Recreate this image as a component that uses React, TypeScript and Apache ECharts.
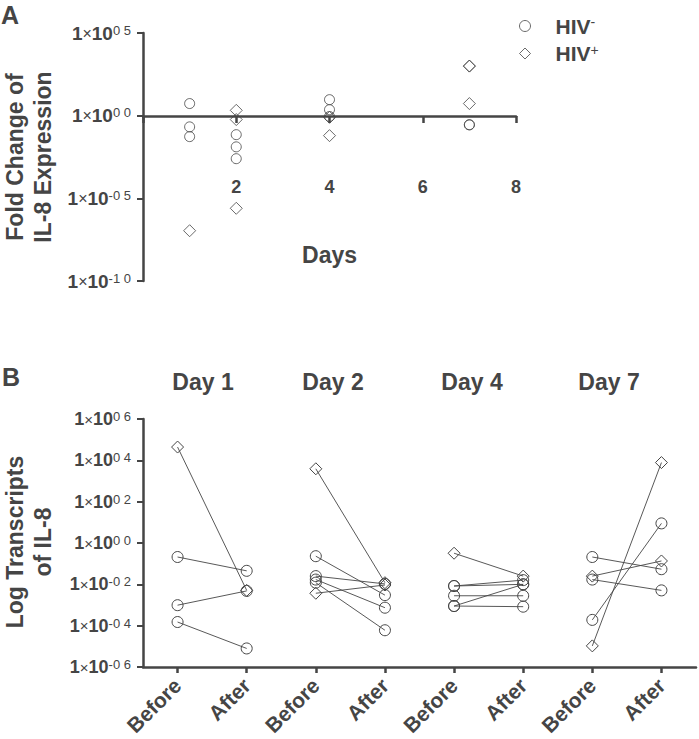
import React, { useEffect, useRef } from 'react';
import * as echarts from 'echarts';

const FONT = '"Liberation Sans", Arial, Helvetica, sans-serif';
const INK = '#454545';

// ---------- Panel A: fold change of IL-8 expression ----------
const hivNegDays = [1, 1, 1, 2, 2, 2, 4, 4, 4, 7, 7];
const hivNegFold = [5.4, 0.21, 0.054, 0.071, 0.013, 0.0025, 9.3, 2.3, 0.89, 0.28, 0.28];
const hivPosDays = [1, 2, 2, 2, 4, 4, 7, 7, 7];
const hivPosFold = [1.1e-7, 2.1, 0.58, 2.5e-6, 0.79, 0.062, 1000, 1000, 5.4];
const legendNames = ['HIV-', 'HIV+'];

// ---------- Panel B: log transcripts of IL-8, before / after ----------
const bCategories = ['Before', 'After', 'Before', 'After', 'Before', 'After', 'Before', 'After'];
const dayTitles = ['Day 1', 'Day 2', 'Day 4', 'Day 7'];

const day1Before = [4.4e4, 0.21, 9.8e-4, 1.5e-4];
const day1After = [5.1e-3, 0.045, 4.8e-3, 7.9e-6];
const day1Status = ['+', '-', '-', '-'];

const day2Before = [3.9e3, 0.23, 0.025, 0.017, 0.012, 3.7e-3];
const day2After = [0.012, 3.0e-3, 0.0105, 7.4e-4, 6.0e-5, 9.3e-3];
const day2Status = ['+', '-', '-', '-', '-', '+'];

const day4Before = [0.32, 8.3e-3, 8.3e-3, 2.8e-3, 8.9e-4, 8.9e-4];
const day4After = [0.025, 0.016, 0.010, 2.8e-3, 0.010, 8.3e-4];
const day4Status = ['+', '-', '-', '-', '-', '-'];

const day7Before = [1.05e-5, 1.9e-4, 0.21, 0.025, 0.017];
const day7After = [7.8e3, 8.9, 0.054, 0.135, 5.1e-3];
const day7Status = ['+', '-', '-', '+', '-'];

const expLabel = (v: number) => {
  const e = Math.round(Math.log10(v));
  const sign = e < 0 ? '-' : '';
  const digits = String(Math.abs(e)).padStart(2, '0').split('').join(' ');
  return `{a|1}{x|×}{a|10}{s|${sign}${digits}}`;
};

const richFor = (size: number) => ({
  a: { fontSize: size, fontWeight: 'bold', color: INK, fontFamily: FONT },
  x: { fontSize: size - 3, color: INK, fontFamily: FONT },
  s: { fontSize: 13, color: INK, fontFamily: FONT, verticalAlign: 'top' },
});

export default function App() {
  const ref = useRef<HTMLDivElement>(null);
  useEffect(() => {
    if (!ref.current) return;
    const chart = echarts.init(ref.current, undefined, { renderer: 'svg' });

    const hollow = { color: 'rgba(255,255,255,0)', borderColor: INK, borderWidth: 1 };

    const series: any[] = [
      {
        type: 'scatter', name: 'HIV-', xAxisIndex: 0, yAxisIndex: 0,
        data: hivNegDays.map((d, i) => [d, hivNegFold[i]]),
        symbol: 'circle', symbolSize: 10, itemStyle: hollow, silent: true,
      },
      {
        type: 'scatter', name: 'HIV+', xAxisIndex: 0, yAxisIndex: 0,
        data: hivPosDays.map((d, i) => [d, hivPosFold[i]]),
        symbol: 'diamond', symbolSize: 12, itemStyle: hollow, silent: true,
      },
    ];

    const days = [
      { before: day1Before, after: day1After, status: day1Status },
      { before: day2Before, after: day2After, status: day2Status },
      { before: day4Before, after: day4After, status: day4Status },
      { before: day7Before, after: day7After, status: day7Status },
    ];
    days.forEach((d, di) => {
      d.before.forEach((b, i) => {
        const pos = d.status[i] === '+';
        series.push({
          type: 'line', name: `${dayTitles[di]} #${i + 1}`, xAxisIndex: 1, yAxisIndex: 1,
          data: [[di * 2, b], [di * 2 + 1, d.after[i]]],
          symbol: pos ? 'diamond' : 'circle', symbolSize: pos ? 12 : 11,
          showAllSymbol: true,
          lineStyle: { color: INK, width: 0.9 },
          itemStyle: hollow, silent: true, z: 3,
        });
      });
    });

    const graphic: any[] = [
      { type: 'text', x: 10, y: 15, style: { text: 'A', font: `bold 25px ${FONT}`, fill: INK, align: 'center', verticalAlign: 'middle' } },
      { type: 'text', x: 11, y: 377, style: { text: 'B', font: `bold 25px ${FONT}`, fill: INK, align: 'center', verticalAlign: 'middle' } },
      {
        type: 'text', x: 29, y: 157, rotation: Math.PI / 2,
        style: { text: 'Fold Change of\nIL-8 Expression', font: `bold 23px ${FONT}`, fill: INK, align: 'center', verticalAlign: 'middle', lineHeight: 28 },
      },
      {
        type: 'text', x: 29, y: 542, rotation: Math.PI / 2,
        style: { text: 'Log Transcripts\nof IL-8', font: `bold 23px ${FONT}`, fill: INK, align: 'center', verticalAlign: 'middle', lineHeight: 28 },
      },
    ];
    const titleX = [203, 333, 472, 609];
    dayTitles.forEach((t, i) => {
      graphic.push({ type: 'text', x: titleX[i], y: 382, style: { text: t, font: `bold 23px ${FONT}`, fill: INK, align: 'center', verticalAlign: 'middle' } });
    });

    chart.setOption({
      animation: false,
      backgroundColor: '#ffffff',
      grid: [
        { left: 143, top: 33, width: 373, height: 248 },
        { left: 143, top: 419, width: 553, height: 248 },
      ],
      xAxis: [
        {
          gridIndex: 0, type: 'value', min: 0, max: 8, interval: 2, position: 'bottom', offset: -165,
          axisLine: { show: true, onZero: false, lineStyle: { color: INK, width: 2.5 } },
          axisTick: { show: true, length: 7, lineStyle: { color: INK, width: 2.5 } },
          axisLabel: { margin: 62, formatter: (v: number) => (v === 0 ? '' : String(v)), fontSize: 18, fontWeight: 'bold', color: INK, fontFamily: FONT },
          splitLine: { show: false },
          name: 'Days', nameLocation: 'middle', nameGap: 127,
          nameTextStyle: { fontSize: 23, fontWeight: 'bold', color: INK, fontFamily: FONT },
        },
        {
          gridIndex: 1, type: 'category', data: bCategories, boundaryGap: true,
          axisLine: { show: true, lineStyle: { color: INK, width: 2.5 } },
          axisTick: { show: true, alignWithLabel: true, length: 6, lineStyle: { color: INK, width: 2.5 } },
          axisLabel: { rotate: 45, interval: 0, margin: 15, fontSize: 21, fontWeight: 'bold', color: INK, fontFamily: FONT },
          splitLine: { show: false },
        },
      ],
      yAxis: [
        {
          gridIndex: 0, type: 'log', logBase: 10, min: 1e-10, max: 1e5, interval: 5,
          axisLine: { show: true, lineStyle: { color: INK, width: 2.5 } },
          axisTick: { show: true, length: 6, lineStyle: { color: INK, width: 2 } },
          axisLabel: { margin: 12, formatter: expLabel, rich: richFor(19) },
          splitLine: { show: false },
        },
        {
          gridIndex: 1, type: 'log', logBase: 10, min: 1e-6, max: 1e6, interval: 2,
          axisLine: { show: true, lineStyle: { color: INK, width: 2.5 } },
          axisTick: { show: true, length: 6, lineStyle: { color: INK, width: 2 } },
          axisLabel: { margin: 12, formatter: expLabel, rich: richFor(18) },
          splitLine: { show: false },
        },
      ],
      legend: {
        data: legendNames, orient: 'vertical', left: 514, top: 10,
        itemWidth: 11, itemHeight: 11, itemGap: 6, selectedMode: false,
        itemStyle: { color: 'rgba(255,255,255,0)', borderColor: INK, borderWidth: 1 },
        formatter: (n: string) => (n === 'HIV-' ? '{g|}{b|HIV}{s|-}' : '{g|}{b|HIV}{s|+}'),
        textStyle: {
          rich: {
            g: { width: 20 },
            b: { fontSize: 21, fontWeight: 'bold', color: INK, fontFamily: FONT, lineHeight: 22 },
            s: { fontSize: 14, color: INK, fontFamily: FONT, verticalAlign: 'top' },
          },
        },
      },
      graphic,
      series,
    });

    return () => chart.dispose();
  }, []);

  return <div ref={ref} style={{ position: 'fixed', left: 0, top: 0, width: 699, height: 739, background: '#fff' }} />;
}
